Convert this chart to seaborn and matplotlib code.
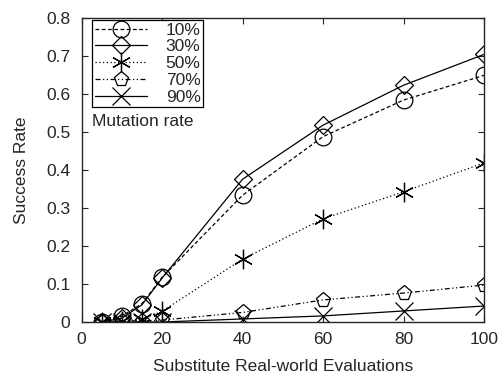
import matplotlib
matplotlib.use("Agg")
import matplotlib.pyplot as plt
import seaborn as sns
import pandas as pd
from matplotlib.lines import Line2D

evaluations = [5, 10, 15, 20, 40, 60, 80, 100]
rate_10 = [0.0, 0.015, 0.048, 0.117, 0.333, 0.487, 0.583, 0.648]
rate_30 = [0.0, 0.010, 0.045, 0.115, 0.375, 0.517, 0.622, 0.703]
rate_50 = [0.0, 0.003, 0.007, 0.028, 0.165, 0.271, 0.342, 0.418]
rate_70 = [0.0, 0.003, 0.003, 0.005, 0.025, 0.058, 0.076, 0.097]
rate_90 = [0.0, 0.0, 0.0, 0.0, 0.008, 0.016, 0.029, 0.042]
labels = ["10%", "30%", "50%", "70%", "90%"]
series = [rate_10, rate_30, rate_50, rate_70, rate_90]

markers = ["o", "D", (6, 2, 0), "p", "x"]
sizes = [12, 9, 14, 11, 13]
styles = [(0, (3, 2)), "-", (0, (1, 2)), (0, (4, 2, 1, 2, 1, 2)), "-"]

sns.set_style("ticks")
plt.rcParams['font.family'] = ['Liberation Sans', 'DejaVu Sans']
FS = 12.5

rows = []
for lab, vals in zip(labels, series):
    for x, y in zip(evaluations, vals):
        rows.append({"eval": x, "rate": y, "mut": lab})
df = pd.DataFrame(rows)

fig = plt.figure(figsize=(4.98, 3.81), dpi=100)
ax = fig.add_axes([81.5 / 498, 1 - 322 / 381, (484 - 81.5) / 498, (322 - 17.5) / 381])

handles = []
for lab, m, ms, ls in zip(labels, markers, sizes, styles):
    sub = df[df["mut"] == lab]
    sns.lineplot(data=sub, x="eval", y="rate", ax=ax, color="black", linewidth=0.9,
                 linestyle=ls, marker=m, markersize=ms, markerfacecolor="none",
                 markeredgecolor="black", markeredgewidth=0.9, legend=False)
    handles.append(Line2D([], [], color="black", linewidth=0.9, linestyle=ls, marker=m,
                          markersize=ms, markerfacecolor="none", markeredgecolor="black",
                          markeredgewidth=0.9))

ax.set_xlim(0, 100)
ax.set_ylim(0, 0.8)
ax.set_xticks([0, 20, 40, 60, 80, 100])
ax.set_yticks([0, 0.1, 0.2, 0.3, 0.4, 0.5, 0.6, 0.7, 0.8])
ax.set_yticklabels(["0", "0.1", "0.2", "0.3", "0.4", "0.5", "0.6", "0.7", "0.8"])
ax.tick_params(direction="in", top=True, right=True, labelsize=FS, length=4, width=0.8)
ax.tick_params(axis="y", pad=8)
ax.tick_params(axis="x", pad=7)
for sp in ax.spines.values():
    sp.set_visible(True)
    sp.set_linewidth(1.0)
ax.set_xlabel("Substitute Real-world Evaluations", fontsize=FS, labelpad=9)
ax.set_ylabel("Success Rate", fontsize=FS, labelpad=12)

leg = ax.legend(handles, labels, loc="upper left", bbox_to_anchor=(10.5 / 402.5, 1 - 2.5 / 304.5),
                fontsize=FS, handlelength=3.0, handletextpad=1.1, labelspacing=0.09,
                borderpad=0.15, borderaxespad=0, fancybox=False, framealpha=1)
leg.get_frame().set_edgecolor("black")
leg.get_frame().set_linewidth(0.9)
ax.text(92 / 498, 1 - 121 / 381, "Mutation rate", transform=fig.transFigure,
        fontsize=FS, va="center", ha="left")

fig.savefig("out.png", dpi=100)
